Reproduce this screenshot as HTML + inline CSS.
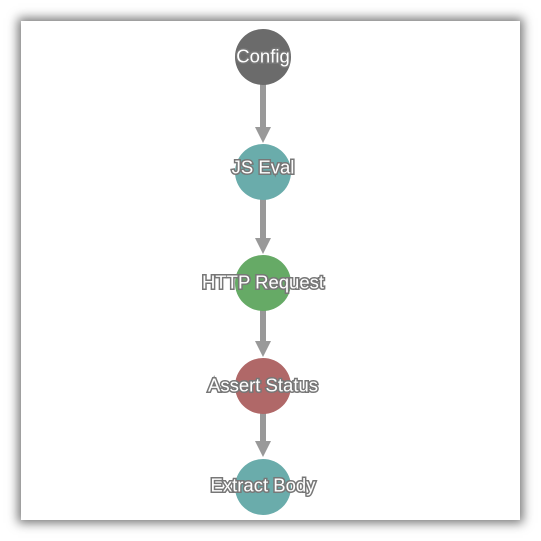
<!DOCTYPE html>
<html><head><style>
body{margin:0;background:#fff;width:541px;height:541px;overflow:hidden}
.card{position:absolute;left:21px;top:21px;width:499px;height:499px;background:#fff;box-shadow:0 0 10px 3px rgba(0,0,0,0.55)}
svg{position:absolute;left:0;top:0}
text{font-family:"Liberation Sans",sans-serif;font-size:18.5px;fill:#fff;stroke:#777;stroke-width:3px;paint-order:stroke;text-anchor:middle;dominant-baseline:central}
</style></head><body>
<div class="card"></div>
<svg width="541" height="541">
<g fill="#999" stroke="none">
<rect x="260" y="84" width="6" height="46"/><polygon points="255,127 271,127 263,143"/>
<rect x="260" y="199" width="6" height="42"/><polygon points="255,238 271,238 263,254"/>
<rect x="260" y="309" width="6" height="36"/><polygon points="255,341 271,341 263,357"/>
<rect x="260" y="412" width="6" height="32"/><polygon points="255,441 271,441 263,457"/>
</g>
<circle cx="263" cy="57" r="28" fill="#6b6b6b"/>
<circle cx="263" cy="172" r="28" fill="#6aacab"/>
<circle cx="263" cy="283" r="28" fill="#66aa66"/>
<circle cx="263" cy="386" r="28" fill="#b06868"/>
<circle cx="263" cy="487" r="28" fill="#6aacab"/>
<text x="263" y="56">Config</text>
<text x="263" y="167">JS Eval</text>
<text x="263" y="282">HTTP Request</text>
<text x="263" y="385">Assert Status</text>
<text x="263" y="485">Extract Body</text>
</svg>
</body></html>
